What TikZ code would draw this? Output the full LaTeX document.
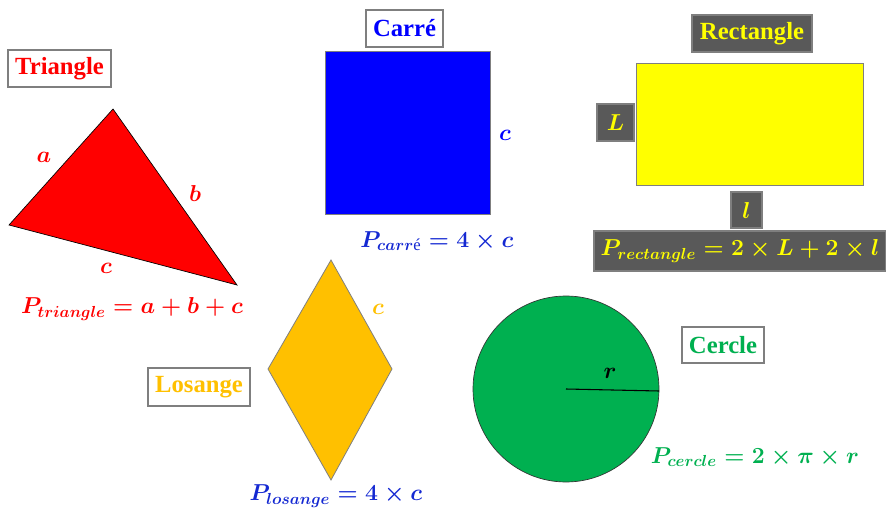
\documentclass[tikz,border=0pt]{standalone}
\usepackage[no-math]{fontspec}
\usepackage{amsmath}
\setmainfont{Liberation Serif}
\newcommand{\mysub}[1]{\mbox{\fontsize{12.5}{14}\selectfont\boldmath$#1$}}
\definecolor{cred}{RGB}{255,0,0}
\definecolor{cblue}{RGB}{0,0,255}
\definecolor{fblue}{RGB}{20,40,210}
\definecolor{cyellow}{RGB}{255,255,0}
\definecolor{cgray}{RGB}{89,89,89}
\definecolor{corange}{RGB}{255,192,0}
\definecolor{cgreen}{RGB}{0,176,80}
\definecolor{edgegray}{RGB}{127,127,127}
\tikzset{
  titlebox/.style={draw=edgegray, line width=0.8pt, fill=white, inner sep=0pt, font=\fontsize{18.5}{21}\selectfont\bfseries},
  darkbox/.style={draw=edgegray, line width=0.8pt, fill=cgray, inner sep=0pt, text=cyellow},
  shapeedge/.style={draw=edgegray, line width=0.6pt},
  formula/.style={inner sep=0pt, font=\fontsize{16.8}{20}\selectfont\boldmath},
  sidelabel/.style={inner sep=0pt, font=\fontsize{17.5}{20}\selectfont\boldmath}
}
\begin{document}
\begin{tikzpicture}[x=0.75pt,y=-0.75pt]
\useasboundingbox (0,0) rectangle (886,510);
% Triangle
\coordinate (t1) at (113,109);
\coordinate (t2) at (9,225);
\coordinate (t3) at (237,285);
\fill[cred, draw=black, line width=0.5pt] (t1) -- (t2) -- (t3) -- cycle;
\node[titlebox, text=cred, minimum width=77.25pt, minimum height=27.75pt] (ttri) at (59.5,68.5) {Triangle};
\node[sidelabel, text=cred] (la) at (44,157) {$a$};
\node[sidelabel, text=cred] (lb) at (195,193) {$b$};
\node[sidelabel, text=cred] (lc) at (106,268) {$c$};
\node[formula, text=cred] (ptri) at (132,309) {$P_{\mysub{triangle}}=a+b+c$};
% Carre
\node[titlebox, text=cblue, minimum width=57.75pt, minimum height=27.75pt] (tcar) at (404.5,28.5) {Carré};
\coordinate (s1) at (325,51);
\coordinate (s2) at (490,214);
\fill[cblue, shapeedge] (s1) rectangle (s2);
\node[sidelabel, text=cblue] (lsc) at (505,135) {$c$};
\node[formula, text=fblue] (pcar) at (437,241) {$P_{\mysub{carr\text{é}}}=4\times c$};
% Rectangle
\node[darkbox, font=\fontsize{18.5}{21}\selectfont\bfseries, minimum width=90pt, minimum height=27.75pt] (trec) at (752,33.5) {Rectangle};
\coordinate (r1) at (636,63);
\coordinate (r2) at (863,185);
\fill[cyellow, shapeedge] (r1) rectangle (r2);
\node[darkbox, font=\fontsize{17.5}{20}\selectfont\boldmath, minimum width=27.75pt, minimum height=27.75pt] (lL) at (615.5,122.5) {$L$};
\node[darkbox, font=\fontsize{17.5}{20}\selectfont\boldmath, minimum width=23.25pt, minimum height=27pt] (ll) at (746.5,210) {$l$};
\node[darkbox, formula, text=cyellow, minimum width=219pt, minimum height=30pt] (prec) at (740,251) {$P_{\mysub{rectangle}}=2\times L+2\times l$};
% Losange
\coordinate (d1) at (331,260);
\coordinate (d2) at (392,369);
\coordinate (d3) at (331,480);
\coordinate (d4) at (268,369);
\fill[corange, shapeedge] (d1) -- (d2) -- (d3) -- (d4) -- cycle;
\node[titlebox, text=corange, minimum width=76.5pt, minimum height=28.5pt] (tlos) at (199,387) {Losange};
\node[sidelabel, text=corange] (lsl) at (378,309) {$c$};
\node[formula, text=fblue] (plos) at (336,496) {$P_{\mysub{losange}}=4\times c$};
% Cercle
\coordinate (cc) at (566,389);
\coordinate (ce) at (659,391);
\fill[cgreen, draw=black!80, line width=0.5pt] (cc) circle[radius=69.75pt];
\draw[black, line width=0.8pt] (cc) -- (ce);
\node[sidelabel, text=black] (lr) at (610,373) {$r$};
\node[titlebox, text=cgreen, minimum width=61.5pt, minimum height=27pt] (tcer) at (723,345) {Cercle};
\node[formula, text=cgreen] (pcer) at (755,457) {$P_{\mysub{cercle}}=2\times\pi\times r$};
\end{tikzpicture}
\end{document}
